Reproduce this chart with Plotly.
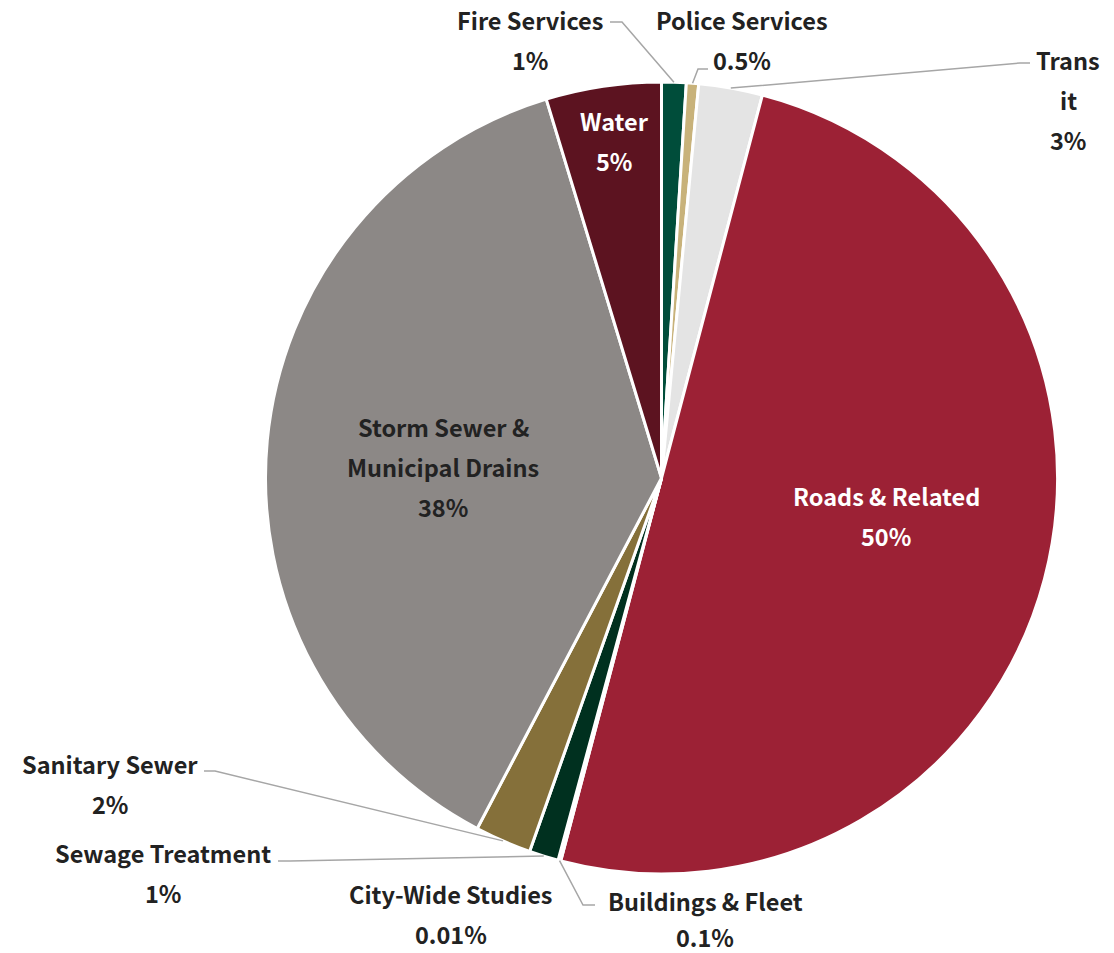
import math
import plotly.graph_objects as go

# ---------------- data ----------------
categories = ["Fire Services", "Police Services", "Transit", "Roads & Related",
              "Buildings & Fleet", "City-Wide Studies", "Sewage Treatment",
              "Sanitary Sewer", "Storm Sewer & Municipal Drains", "Water"]
values = [1.0, 0.5, 2.6, 50.0, 0.1, 0.01, 1.2, 2.3, 37.6, 4.7]
pct_labels = ["1%", "0.5%", "3%", "50%", "0.1%", "0.01%", "1%", "2%", "38%", "5%"]
name_lines = [["Fire Services"], ["Police Services"], ["Trans", "it"], ["Roads & Related"],
              ["Buildings & Fleet"], ["City-Wide Studies"], ["Sewage Treatment"],
              ["Sanitary Sewer"], ["Storm Sewer &", "Municipal Drains"], ["Water"]]

# ---------------- style ----------------
colors = ["#004d3a", "#c8b27a", "#e4e4e4", "#9c2135", "#bdbdbd", "#7f7f7f",
          "#00301f", "#85703a", "#8c8886", "#5c1320"]
W, H = 1114, 953
CX, CY, R = 661.5, 478, 396

# label placement: (centre x px, first line y px, line gap px, text colour, leader [(x,y) end, (x,y) elbow] or None)
placement = {
    "Fire Services": (530, 20, 40, "#222222", [(610, 22), (622, 22)]),
    "Police Services": (742, 20, 40, "#222222", [(708, 69), (698, 69)]),
    "Transit": (1068, 60, 40, "#222222", [(1030, 63), (1020, 63)]),
    "Roads & Related": (886, 496, 40, "#ffffff", None),
    "Buildings & Fleet": (705, 901, 36, "#222222", [(595, 905), (583, 905)]),
    "City-Wide Studies": (451, 894, 40, "#222222", None),
    "Sewage Treatment": (163, 853, 40, "#222222", [(278, 861), (290, 861)]),
    "Sanitary Sewer": (110, 764, 40, "#222222", [(204, 771), (215, 771)]),
    "Storm Sewer & Municipal Drains": (443, 427, 40, "#222222", None),
    "Water": (614, 121, 40, "#ffffff", None),
}
FONT = "Noto Sans CJK JP"
FONT_SIZE = 23.5


def px(x, y):
    return x / W, 1 - y / H


fig = go.Figure(go.Pie(
    labels=categories, values=values, sort=False, direction="clockwise", rotation=0,
    marker=dict(colors=colors, line=dict(color="white", width=3)),
    textinfo="none", hoverinfo="label+percent", showlegend=False,
    domain=dict(x=[(CX - R) / W, (CX + R) / W], y=[(H - CY - R) / H, (H - CY + R) / H]),
))

annotations = []
shapes = []
total = sum(values)
cum = 0.0
for cat, v, pct, lines in zip(categories, values, pct_labels, name_lines):
    mid = (cum + v / 2) / total * 2 * math.pi
    cum += v
    cx, y0, gap, col, leader = placement[cat]
    for i, t in enumerate(lines + [pct]):
        x, y = px(cx, y0 + i * gap)
        annotations.append(dict(x=x, y=y, xref="paper", yref="paper", text="<b>" + t + "</b>",
                                showarrow=False, xanchor="center", yanchor="middle",
                                borderpad=0,
                                font=dict(family=FONT, size=FONT_SIZE, color=col)))
    if leader:
        tip = (CX + R * math.sin(mid), CY - R * math.cos(mid))
        pts = leader + [tip]
        path = "M " + " L ".join(f"{px(a, b)[0]},{px(a, b)[1]}" for a, b in pts)
        shapes.append(dict(type="path", path=path, xref="paper", yref="paper",
                           line=dict(color="#a6a6a6", width=1.5)))

fig.update_layout(width=W, height=H, margin=dict(l=0, r=0, t=0, b=0),
                  paper_bgcolor="white", plot_bgcolor="white",
                  annotations=annotations, shapes=shapes)
fig.write_html("out.html")
